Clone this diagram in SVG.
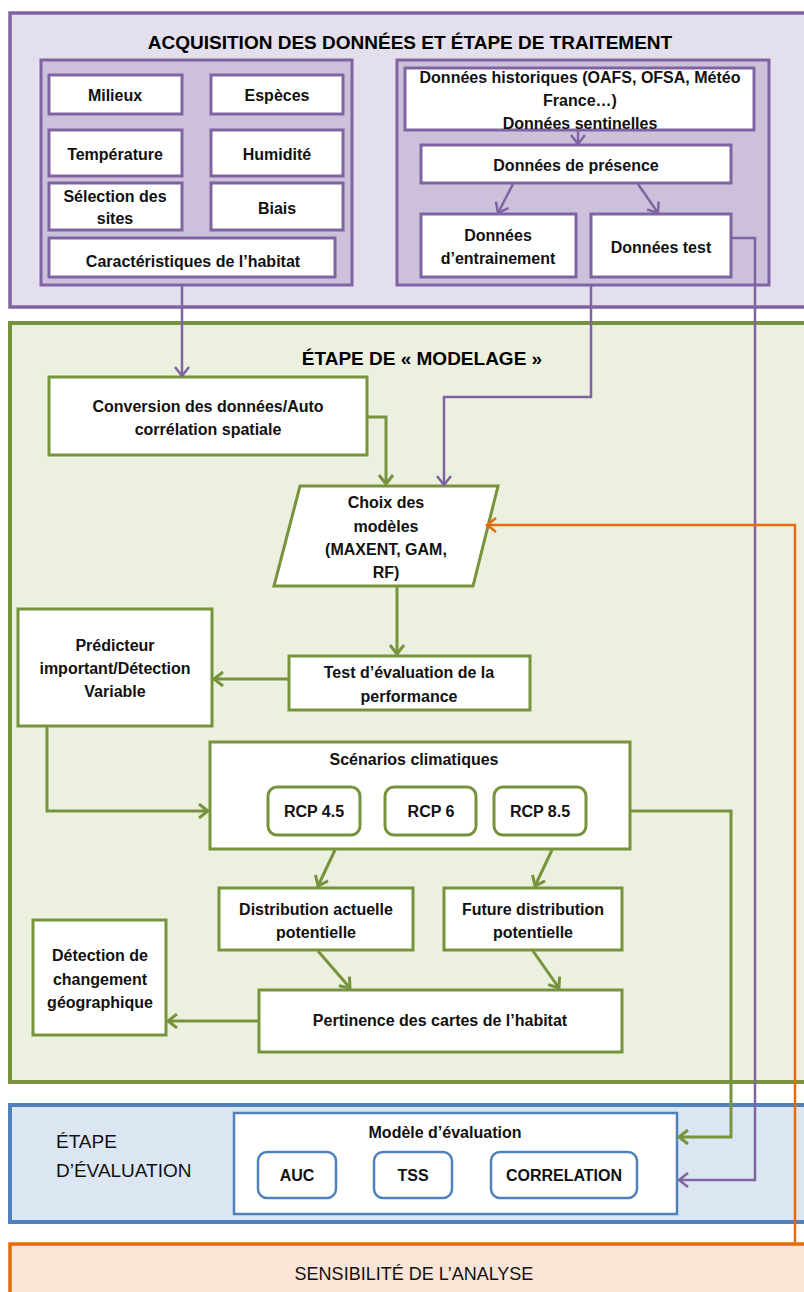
<svg xmlns="http://www.w3.org/2000/svg" width="804" height="1292" viewBox="0 0 804 1292">
<style>
.t{font-family:"Liberation Sans",Arial,sans-serif;font-weight:bold;font-size:16px;text-anchor:middle;fill:#111}
.h{font-family:"Liberation Sans",Arial,sans-serif;font-weight:bold;font-size:19px;text-anchor:middle;fill:#000}
.r{font-family:"Liberation Sans",Arial,sans-serif;font-size:19px;fill:#111}
.pb{fill:#fff;stroke:#8064a2;stroke-width:3}
.gb{fill:#fff;stroke:#77933c;stroke-width:3}
.bb{fill:#fff;stroke:#4f81bd;stroke-width:2.5}
.cp{fill:none;stroke:#8064a2;stroke-width:2.5}
.cg{fill:none;stroke:#77933c;stroke-width:3}
.co{fill:none;stroke:#e46c0a;stroke-width:2.5}
</style>
<defs>
<marker id="ap" markerUnits="userSpaceOnUse" markerWidth="16" markerHeight="16" refX="11" refY="8" orient="auto"><path d="M2,1 L11,8 L2,15" fill="none" stroke="#8064a2" stroke-width="2.5"/></marker>
<marker id="ag" markerUnits="userSpaceOnUse" markerWidth="16" markerHeight="16" refX="11" refY="8" orient="auto"><path d="M2,1 L11,8 L2,15" fill="none" stroke="#77933c" stroke-width="3"/></marker>
<marker id="ao" markerUnits="userSpaceOnUse" markerWidth="16" markerHeight="16" refX="11" refY="8" orient="auto"><path d="M2,1 L11,8 L2,15" fill="none" stroke="#e46c0a" stroke-width="2.5"/></marker>
</defs>

<g id="acquisition">
<rect x="10" y="13" width="800" height="294" fill="#e4dfec" stroke="#8064a2" stroke-width="3.5"/>
<text class="h" x="410" y="49">ACQUISITION DES DONNÉES ET ÉTAPE DE TRAITEMENT</text>
</g>
<g id="groupe-gauche"><rect x="41" y="60" width="311" height="225" fill="#ccc0da" stroke="#8064a2" stroke-width="3"/></g>
<g id="groupe-droite"><rect x="397" y="60" width="372" height="225" fill="#ccc0da" stroke="#8064a2" stroke-width="3"/></g>
<g id="milieux"><rect class="pb" x="49" y="75" width="133" height="39"/><text class="t" x="115" y="101">Milieux</text></g>
<g id="especes"><rect class="pb" x="211" y="75" width="132" height="39"/><text class="t" x="277" y="101">Espèces</text></g>
<g id="temperature"><rect class="pb" x="49" y="130" width="133" height="46"/><text class="t" x="115" y="160">Température</text></g>
<g id="humidite"><rect class="pb" x="211" y="130" width="132" height="46"/><text class="t" x="277" y="160">Humidité</text></g>
<g id="selection"><rect class="pb" x="49" y="183" width="133" height="47"/><text class="t" x="115" y="202">Sélection des</text><text class="t" x="115" y="224">sites</text></g>
<g id="biais"><rect class="pb" x="211" y="183" width="132" height="47"/><text class="t" x="277" y="214">Biais</text></g>
<g id="caracteristiques"><rect class="pb" x="49" y="238" width="286" height="39"/><text class="t" x="193" y="267">Caractéristiques de l’habitat</text></g>
<g id="historiques"><rect class="pb" x="405" y="68" width="349" height="62"/><text class="t" x="580" y="83">Données historiques (OAFS, OFSA, Météo</text><text class="t" x="580" y="106">France…)</text><text class="t" x="580" y="129">Données sentinelles</text></g>
<g id="presence"><rect class="pb" x="421" y="145" width="310" height="38"/><text class="t" x="576" y="171">Données de présence</text></g>
<g id="entrainement"><rect class="pb" x="421" y="214" width="155" height="63"/><text class="t" x="498" y="241">Données</text><text class="t" x="498" y="264">d’entrainement</text></g>
<g id="test"><rect class="pb" x="591" y="214" width="140" height="63"/><text class="t" x="661" y="253">Données test</text></g>

<g id="modelage">
<rect x="10" y="323" width="800" height="759" fill="#ebf1de" stroke="#77933c" stroke-width="4"/>
<text class="h" x="422" y="365">ÉTAPE DE « MODELAGE »</text>
</g>
<g id="conversion"><rect class="gb" x="49" y="377" width="318" height="78"/><text class="t" x="208" y="412">Conversion des données/Auto</text><text class="t" x="208" y="435">corrélation spatiale</text></g>
<g id="choix"><polygon class="gb" points="300,486 498,486 473,586 274,586"/><text class="t" x="386" y="508">Choix des</text><text class="t" x="386" y="532">modèles</text><text class="t" x="386" y="555">(MAXENT, GAM,</text><text class="t" x="386" y="578">RF)</text></g>
<g id="test-evaluation"><rect class="gb" x="289" y="656" width="241" height="54"/><text class="t" x="409" y="678">Test d’évaluation de la</text><text class="t" x="409" y="702">performance</text></g>
<g id="predicteur"><rect class="gb" x="18" y="609" width="194" height="117"/><text class="t" x="115" y="651">Prédicteur</text><text class="t" x="115" y="674">important/Détection</text><text class="t" x="115" y="697">Variable</text></g>
<g id="scenarios"><rect class="gb" x="210" y="742" width="420" height="107"/><text class="t" x="414" y="765">Scénarios climatiques</text>
<rect class="gb" x="268" y="787" width="92" height="48" rx="9"/><text class="t" x="314" y="817">RCP 4.5</text>
<rect class="gb" x="385" y="787" width="91" height="48" rx="9"/><text class="t" x="431" y="817">RCP 6</text>
<rect class="gb" x="494" y="787" width="92" height="48" rx="9"/><text class="t" x="540" y="817">RCP 8.5</text></g>
<g id="distribution-actuelle"><rect class="gb" x="219" y="888" width="194" height="62"/><text class="t" x="316" y="915">Distribution actuelle</text><text class="t" x="316" y="938">potentielle</text></g>
<g id="future-distribution"><rect class="gb" x="444" y="888" width="178" height="62"/><text class="t" x="533" y="915">Future distribution</text><text class="t" x="533" y="938">potentielle</text></g>
<g id="pertinence"><rect class="gb" x="259" y="990" width="363" height="62"/><text class="t" x="440" y="1026">Pertinence des cartes de l’habitat</text></g>
<g id="detection"><rect class="gb" x="33" y="920" width="133" height="115"/><text class="t" x="100" y="961">Détection de</text><text class="t" x="100" y="985">changement</text><text class="t" x="100" y="1008">géographique</text></g>

<g id="evaluation">
<rect x="10" y="1105" width="800" height="117" fill="#dce6f2" stroke="#4f81bd" stroke-width="4"/>
<text class="r" x="56" y="1148">ÉTAPE</text>
<text class="r" x="56" y="1177">D’ÉVALUATION</text>
</g>
<g id="modele-evaluation"><rect x="234" y="1113" width="443" height="101" fill="#fff" stroke="#4f81bd" stroke-width="2.5"/><text class="t" x="445" y="1138">Modèle d’évaluation</text>
<rect class="bb" x="258" y="1152" width="78" height="46" rx="9"/><text class="t" x="297" y="1181">AUC</text>
<rect class="bb" x="374" y="1152" width="78" height="46" rx="9"/><text class="t" x="413" y="1181">TSS</text>
<rect class="bb" x="491" y="1152" width="146" height="46" rx="9"/><text class="t" x="564" y="1181">CORRELATION</text></g>

<g id="sensibilite">
<rect x="10" y="1244" width="800" height="60" fill="#fce4d6" stroke="#e46c0a" stroke-width="3.5"/>
<text class="r" x="414" y="1280" style="text-anchor:middle;font-size:18px">SENSIBILITÉ DE L’ANALYSE</text>
</g>

<g id="connecteurs">
<path class="cp" d="M578,130 L578,144" marker-end="url(#ap)"/>
<path class="cp" d="M513,184 L498,213" marker-end="url(#ap)"/>
<path class="cp" d="M638,184 L658,213" marker-end="url(#ap)"/>
<path class="cp" d="M182,286 L182,376" marker-end="url(#ap)"/>
<path class="cp" d="M591,286 L591,397 L444,397 L444,485" marker-end="url(#ap)"/>
<path class="cp" d="M731,238 L755,238 L755,1180 L679,1180" marker-end="url(#ap)"/>
<path class="cg" d="M367,417 L386,417 L386,484" marker-end="url(#ag)"/>
<path class="cg" d="M397,587 L397,654" marker-end="url(#ag)"/>
<path class="cg" d="M289,679 L214,679" marker-end="url(#ag)"/>
<path class="cg" d="M47,726 L47,811 L208,811" marker-end="url(#ag)"/>
<path class="cg" d="M630,811 L731,811 L731,1137 L679,1137" marker-end="url(#ag)"/>
<path class="cg" d="M335,850 L318,886" marker-end="url(#ag)"/>
<path class="cg" d="M552,850 L535,886" marker-end="url(#ag)"/>
<path class="cg" d="M318,951 L350,988" marker-end="url(#ag)"/>
<path class="cg" d="M533,951 L559,988" marker-end="url(#ag)"/>
<path class="cg" d="M259,1021 L168,1021" marker-end="url(#ag)"/>
<path class="co" d="M795,1244 L795,525 L487,525" marker-end="url(#ao)"/>
</g>
</svg>
